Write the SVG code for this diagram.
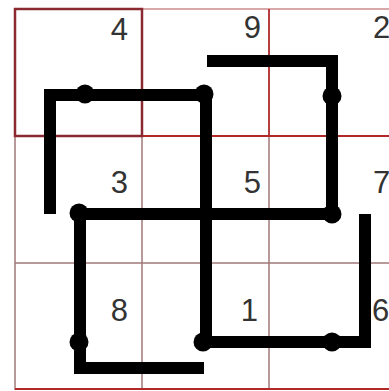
<svg xmlns="http://www.w3.org/2000/svg" width="389" height="391" viewBox="0 0 389 391">
<style>
.g{stroke:#a07878;stroke-width:1.5;fill:none}
.r{stroke:#b02828;stroke-width:1.8;fill:none}
.d{stroke:#8a2a30;stroke-width:2.5;fill:none}
.p{stroke:#d9a8a8;stroke-width:2;fill:none}
.num{font-family:"Liberation Sans",Arial,sans-serif;font-size:31px;fill:#333}
.ln{stroke:#000;stroke-width:12;fill:none;stroke-linejoin:miter;stroke-linecap:butt}
.dot{fill:#000}
</style>
<rect width="389" height="391" fill="#fff"/>
<g id="grid">
<line class="g" x1="15" y1="136" x2="15" y2="390"/>
<line class="g" x1="142" y1="136" x2="142" y2="390"/>
<line class="g" x1="269" y1="136" x2="269" y2="390"/>
<line class="p" x1="142" y1="9" x2="389" y2="9"/>
<line class="r" x1="269" y1="9" x2="269" y2="136"/>
<line class="r" x1="142" y1="136" x2="389" y2="136"/>
<line class="g" x1="15" y1="263" x2="389" y2="263"/>
<line class="r" x1="15" y1="389" x2="389" y2="389"/>
<rect class="d" x="15" y="9" width="127" height="127"/>
</g>
<g id="numbers">
<text class="num" x="128" y="40" text-anchor="end">4</text>
<text class="num" x="261" y="38" text-anchor="end">9</text>
<text class="num" x="373" y="38">2</text>
<text class="num" x="128" y="193" text-anchor="end">3</text>
<text class="num" x="261" y="193" text-anchor="end">5</text>
<text class="num" x="373" y="193">7</text>
<text class="num" x="128" y="321" text-anchor="end">8</text>
<text class="num" x="258" y="321" text-anchor="end">1</text>
<text class="num" x="372" y="321">6</text>
</g>
<g id="connectors">
<polyline class="ln" points="50,214 50,95 206,95 206,342 365,342 365,214"/>
<polyline class="ln" points="207,61 332,61 332,214 80,214 80,368 204,368"/>
</g>
<g id="dots">
<circle class="dot" cx="85" cy="94" r="9.5"/>
<circle class="dot" cx="204" cy="94" r="9.5"/>
<circle class="dot" cx="332" cy="96" r="9.5"/>
<circle class="dot" cx="332" cy="214" r="9.5"/>
<circle class="dot" cx="79" cy="213" r="9.5"/>
<circle class="dot" cx="79" cy="342" r="9.5"/>
<circle class="dot" cx="203" cy="342" r="9.5"/>
<circle class="dot" cx="332" cy="342" r="9.5"/>
</g>
</svg>
